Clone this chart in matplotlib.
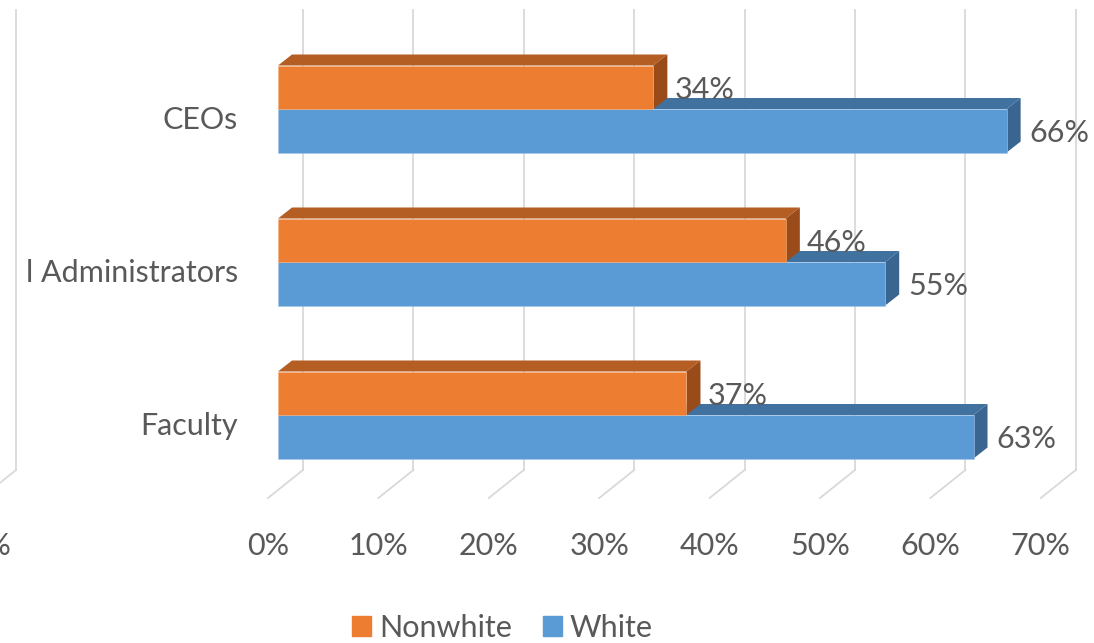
import numpy as np
import matplotlib
matplotlib.use('Agg')
import matplotlib.pyplot as plt
from matplotlib.patches import Polygon, Patch

plt.rcParams['font.family'] = ['Lato', 'DejaVu Sans']

# data (Faculty at the bottom, CEOs at the top)
categories = ['Faculty', 'l Administrators', 'CEOs']
nonwhite = [0.37, 0.46, 0.34]
white = [0.63, 0.55, 0.66]
tick_vals = [0.0, 0.1, 0.2, 0.3, 0.4, 0.5, 0.6, 0.7]
tick_labels = ['0%', '10%', '20%', '30%', '40%', '50%', '60%', '70%']

orange = ['#ED7D31', '#B55E23', '#9A4B1A']   # front, top, side
blue = ['#5B9BD5', '#41729F', '#3A6590']
grid_c = '#D9D9D9'
text_c = '#595959'
fs = 22

fig = plt.figure(figsize=(10.94, 6.43), dpi=100)
ax = fig.add_axes([0, 0, 1, 1])
# one x unit = 1104 px, one category step = 153 px
PX = 1 / 1104
PY = 1 / 153
ax.set_xlim(-278 * PX, (1094 - 278) * PX)
ax.set_ylim(-228 * PY, (643 - 228) * PY)
ax.axis('off')

dx, dy = 14 * PX, 11 * PY          # bar depth
bh = 43.5 * PY                      # bar thickness
floor_y = (643 - 498 - 228) * PY
top_y = (643 - 10 - 228) * PY


def gridline(v, label):
    # back wall line + floor diagonal, pseudo-3d
    xb = v + 25 * PX
    yb = floor_y + 28 * PY
    ax.plot([xb, xb], [yb, top_y], color=grid_c, lw=1.3, zorder=1)
    ax.plot([v - 10 * PX, xb], [floor_y, yb], color=grid_c, lw=1.3, zorder=1)
    ax.text(v - 10 * PX, floor_y - 48 * PY, label, ha='center', va='center',
            fontsize=fs, color=text_c)


for v, lab in zip(tick_vals, tick_labels):
    gridline(v, lab)
# edge of the neighbouring panel, cut off at the left border
gridline(-287 * PX, '70%')


def bar3d(y0, v, cols, z):
    ax.barh(y0, v, height=bh, left=0, align='edge', color=cols[0],
            edgecolor='#A9C6E8' if cols is blue else '#F4B183', lw=0.4, zorder=z + 0.2)
    top = [(0, y0 + bh), (v, y0 + bh), (v + dx, y0 + bh + dy), (dx, y0 + bh + dy)]
    side = [(v, y0), (v + dx, y0 + dy), (v + dx, y0 + bh + dy), (v, y0 + bh)]
    ax.add_patch(Polygon(top, closed=True, color=cols[1], lw=0, zorder=z))
    ax.add_patch(Polygon(side, closed=True, color=cols[2], lw=0, zorder=z + 0.1))


for i, cat in enumerate(categories):
    bar3d(i - bh, white[i], blue, 2)
    bar3d(i, nonwhite[i], orange, 3)
    ax.text(white[i] + dx + 9 * PX, i - bh / 2 - 2 * PY, f'{white[i]:.0%}',
            ha='left', va='center', fontsize=fs, color=text_c, zorder=5)
    ax.text(nonwhite[i] + dx + 7 * PX, i + bh / 2 - 3 * PY, f'{nonwhite[i]:.0%}',
            ha='left', va='center', fontsize=fs, color=text_c, zorder=5)
    ax.text(-40 * PX, i - 11 * PY, cat, ha='right', va='center',
            fontsize=fs, color=text_c)

handles = [Patch(color=orange[0], label='Nonwhite'), Patch(color=blue[0], label='White')]
fig.legend(handles=handles, loc='center', bbox_to_anchor=(502.5 / 1094, 1 - 628 / 643),
           ncol=2, frameon=False, fontsize=fs, labelcolor=text_c,
           handlelength=0.62, handleheight=0.62, handletextpad=0.27, columnspacing=1.0)

fig.savefig('out.png', dpi=100)
